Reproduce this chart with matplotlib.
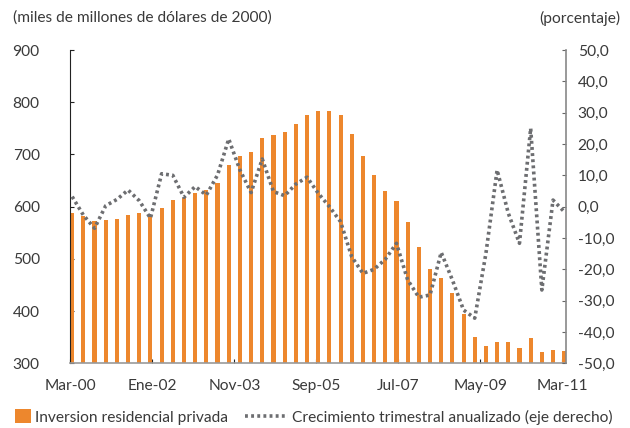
import matplotlib
matplotlib.use("Agg")
import matplotlib.pyplot as plt
from matplotlib.patches import Patch
from matplotlib.lines import Line2D

# Quarterly data, Mar-00 .. Mar-11
inversion = [588, 583, 572, 574, 576, 584, 588, 582, 597, 613, 617, 626, 632, 645, 680, 697,
             705, 732, 737, 743, 758, 776, 783, 783, 776, 739, 697, 661, 630, 611, 571, 523,
             481, 464, 435, 395, 350, 333, 341, 341, 329, 349, 322, 326, 324]
crecimiento = [3.2, -2.7, -6.9, 0.3, 2.3, 5.3, 1.9, -3.7, 10.5, 10.0, 3.0, 6.4, 3.7, 10.1, 21.6, 11.7,
               4.5, 15.2, 4.8, 3.5, 7.2, 9.4, 4.3, 0.0, -4.8, -16.0, -21.3, -20.0, -16.8, -11.7, -23.4, -28.9,
               -28.2, -14.6, -23.4, -33.0, -35.6, -14.9, 11.7, -2.1, -11.7, 25.0, -26.6, 2.1, -1.6]
tick_labels = ["Mar-00", "Ene-02", "Nov-03", "Sep-05", "Jul-07", "May-09", "Mar-11"]
left_ticks = [300, 400, 500, 600, 700, 800, 900]
right_ticks = [-50, -40, -30, -20, -10, 0, 10, 20, 30, 40, 50]

plt.rcParams['font.family'] = ['Lato', 'DejaVu Sans']
FS = 11.2
txt = '#3a3a3a'
orange = '#ED872D'
gray_line = '#6d6e71'
dots = (0, (0.8, 0.9))

fig = plt.figure(figsize=(6.3, 4.28), dpi=100)
ax = fig.add_axes([70.3/630, 1-363.3/428, (565.7-70.3)/630, (363.3-50)/428])

x = [3*i + 0.5 for i in range(len(inversion))]
ax.bar(x, [v - 300 for v in inversion], bottom=300, width=1.1, color=orange, zorder=2)
ax.set_ylim(300, 900)
ax.set_xlim(0, 132.9)
ax.set_yticks(left_ticks)
ax.set_xticks([22*k for k in range(7)])
ax.set_xticklabels(tick_labels)
ax.tick_params(axis='y', direction='in', length=3, colors='#222222', labelcolor=txt, labelsize=FS, pad=22)
ax.tick_params(axis='x', direction='in', length=3, colors='#222222', labelcolor=txt, labelsize=FS, pad=11)
ax.spines['top'].set_visible(False)
ax.spines['left'].set_color('#222222')
ax.spines['bottom'].set_color('#9a9a9a')
ax.spines['bottom'].set_linewidth(1.2)
ax.spines['right'].set_visible(False)

ax2 = ax.twinx()
ax2.plot(x, crecimiento, color=gray_line, linewidth=2.6, linestyle=dots, zorder=3)
ax2.set_ylim(-50, 50)
ax2.set_yticks(right_ticks)
ax2.set_yticklabels([f"{v:.1f}".replace('.', ',') for v in right_ticks])
ax2.tick_params(axis='y', direction='in', length=3, colors='#666666', labelcolor=txt, labelsize=FS, pad=8.6)
ax2.spines['top'].set_visible(False)
ax2.spines['left'].set_visible(False)
ax2.spines['bottom'].set_visible(False)
ax2.spines['right'].set_color('#888888')
ax2.spines['right'].set_linewidth(1.2)

fig.text(13/630, 1-18/428, "(miles de millones de dólares de 2000)", fontsize=FS, color=txt, va='center', ha='left')
fig.text(620/630, 1-18/428, "(porcentaje)", fontsize=FS, color=txt, va='center', ha='right')

fig.legend([Patch(facecolor=orange, edgecolor='none')], ["Inversion residencial privada"],
           loc='center left', bbox_to_anchor=(15/630, 1-417/428), frameon=False, fontsize=FS,
           labelcolor=txt, handlelength=1.0, handleheight=1.0, handletextpad=0.3,
           borderaxespad=0, borderpad=0)
fig.legend([Line2D([0], [0], color=gray_line, linewidth=2.6, linestyle=dots)],
           ["Crecimiento trimestral anualizado (eje derecho)"],
           loc='center left', bbox_to_anchor=(245/630, 1-417/428), frameon=False, fontsize=FS,
           labelcolor=txt, handlelength=2.75, handletextpad=0.3, borderaxespad=0, borderpad=0)

fig.savefig("out.png", dpi=100)
